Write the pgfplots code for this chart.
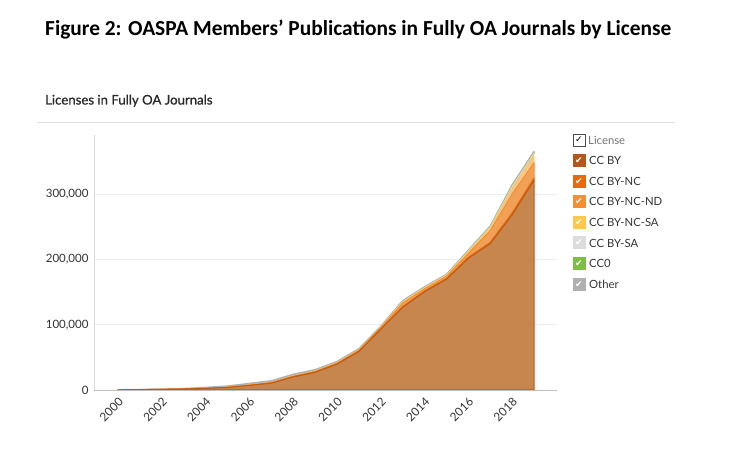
\documentclass[border=0pt]{standalone}
\usepackage{pgfplots}
\pgfplotsset{compat=1.18}
\usepackage{pgfplotstable}
\usepackage{fontspec}
\setmainfont{Lato}
\newfontfamily\titlefont{Carlito}
\newfontfamily\subfont{Lato}[FakeBold=0.9]
\newfontfamily\checkfont{DejaVu Sans}

\definecolor{ccby}{HTML}{B5561A}
\definecolor{ccbyF}{HTML}{C8864F}
\definecolor{bync}{HTML}{E8690C}
\definecolor{byncF}{HTML}{EA7D2A}
\definecolor{byncnd}{HTML}{F78F2E}
\definecolor{byncndF}{HTML}{F1A057}
\definecolor{byncsa}{HTML}{FDC84F}
\definecolor{byncsaF}{HTML}{F7C590}
\definecolor{bysa}{HTML}{DCDCDC}
\definecolor{bysaF}{HTML}{E6E0DA}
\definecolor{cczero}{HTML}{7CC043}
\definecolor{cczeroF}{HTML}{A8D07E}
\definecolor{other}{HTML}{B0B0B0}
\definecolor{otherF}{HTML}{C9C6C2}
\definecolor{txt}{HTML}{333333}

\pgfplotstableread{
year ccby bync byncnd byncsa bysa cczero other
2000 300 0 0 0 0 0 100
2001 600 0 0 0 0 0 100
2002 1000 0 0 0 0 0 200
2003 1500 50 100 0 0 0 500
2004 2500 100 200 50 50 0 1000
2005 3800 150 300 100 100 50 1500
2006 7000 200 400 100 200 100 2000
2007 10500 300 600 200 300 100 2000
2008 20000 400 800 300 400 100 2000
2009 27000 500 1000 300 500 200 1500
2010 39500 500 1200 400 500 200 1200
2011 59000 600 1400 400 600 200 1000
2012 93000 700 1800 500 500 200 800
2013 126600 1000 5400 1500 800 300 1200
2014 150500 1000 3500 1200 800 300 700
2015 169500 1200 3300 1200 800 300 700
2016 201600 1500 5900 2500 1200 400 900
2017 224000 2000 18000 4000 1500 500 1000
2018 268000 3000 29000 9000 2500 800 1700
2019 321000 3500 23500 12000 2500 1000 1500
}\datatable

\begin{document}
\begin{tikzpicture}[x=1pt,y=1pt]
\useasboundingbox (0,0) rectangle (729,450);
% title
\node[anchor=base west, inner sep=0pt] at (45,414) {\titlefont\bfseries\fontsize{21.4}{24}\selectfont Figure 2: OASPA Members’ Publications in Fully OA Journals by License};
\node[anchor=base west, inner sep=0pt, text=txt!80!black] at (45,345.5) {\subfont\fontsize{13.2}{15}\selectfont Licenses in Fully OA Journals};
\draw[color=black!12, line width=0.8pt] (37,328) -- (675,328);

\begin{axis}[
  at={(94pt,60pt)}, anchor=south west,
  scale only axis, width=463pt, height=255pt,
  xmin=1998.9, xmax=2020.05, ymin=0, ymax=390500,
  stack plots=y,
  axis x line*=bottom, axis y line*=left,
  x axis line style={-, color=black!25, line width=0.9pt},
  y axis line style={-, color=black!15, line width=0.9pt},
  major tick length=0pt,
  ymajorgrids, major grid style={color=black!7, line width=0.8pt},
  xtick={2000,2002,...,2018},
  ytick={0,100000,200000,300000},
  scaled y ticks=false,
  /pgf/number format/assume math mode=true,
  yticklabel style={/pgf/number format/fixed, /pgf/number format/1000 sep={,}, font=\fontsize{11.5}{12}\selectfont, text=txt, xshift=-2pt},
  xticklabel style={/pgf/number format/1000 sep={}, font=\fontsize{11.8}{12}\selectfont, text=txt, inner sep=0pt, xshift=3pt, yshift=-10pt, rotate=45, anchor=east},
  every axis plot/.append style={line join=round},
]
\addplot[fill=ccbyF, draw=ccby!80!bync, line width=1pt] table[x=year,y=ccby]{\datatable} \closedcycle;
\addplot[fill=byncF, draw=bync, line width=1pt] table[x=year,y=bync]{\datatable} \closedcycle;
\addplot[fill=byncndF, draw=byncnd, line width=1pt] table[x=year,y=byncnd]{\datatable} \closedcycle;
\addplot[fill=byncsaF, draw=byncsa, line width=0.8pt] table[x=year,y=byncsa]{\datatable} \closedcycle;
\addplot[fill=bysaF, draw=bysa, line width=0.8pt] table[x=year,y=bysa]{\datatable} \closedcycle;
\addplot[fill=cczeroF, draw=cczero, line width=0.5pt] table[x=year,y=cczero]{\datatable} \closedcycle;
\addplot[fill=otherF, draw=other, line width=1.5pt] table[x=year,y=other]{\datatable} \closedcycle;
\end{axis}

% legend
\node[draw=black!70, fill=white, minimum size=12pt, inner sep=0pt, line width=0.7pt] at (579,310) {\checkfont\fontsize{9}{9}\selectfont ✓};
\node[anchor=west, inner sep=0pt, text=black!55] at (588,310) {\fontsize{11.3}{12}\selectfont License};
\foreach \c/\t [count=\i] in {ccby/CC BY, bync/CC BY-NC, byncnd/CC BY-NC-ND, byncsa/CC BY-NC-SA, bysa/CC BY-SA, cczero/CC0, other/Other}{
  \pgfmathsetmacro{\yy}{310-20.6*\i}
  \node[fill=\c, minimum size=13pt, inner sep=0pt] at (579,\yy) {\checkfont\color{white}\fontsize{9}{9}\selectfont ✔};
  \node[anchor=west, inner sep=0pt, text=txt] at (589,\yy) {\fontsize{11.3}{12}\selectfont \t};
}
\end{tikzpicture}
\end{document}
